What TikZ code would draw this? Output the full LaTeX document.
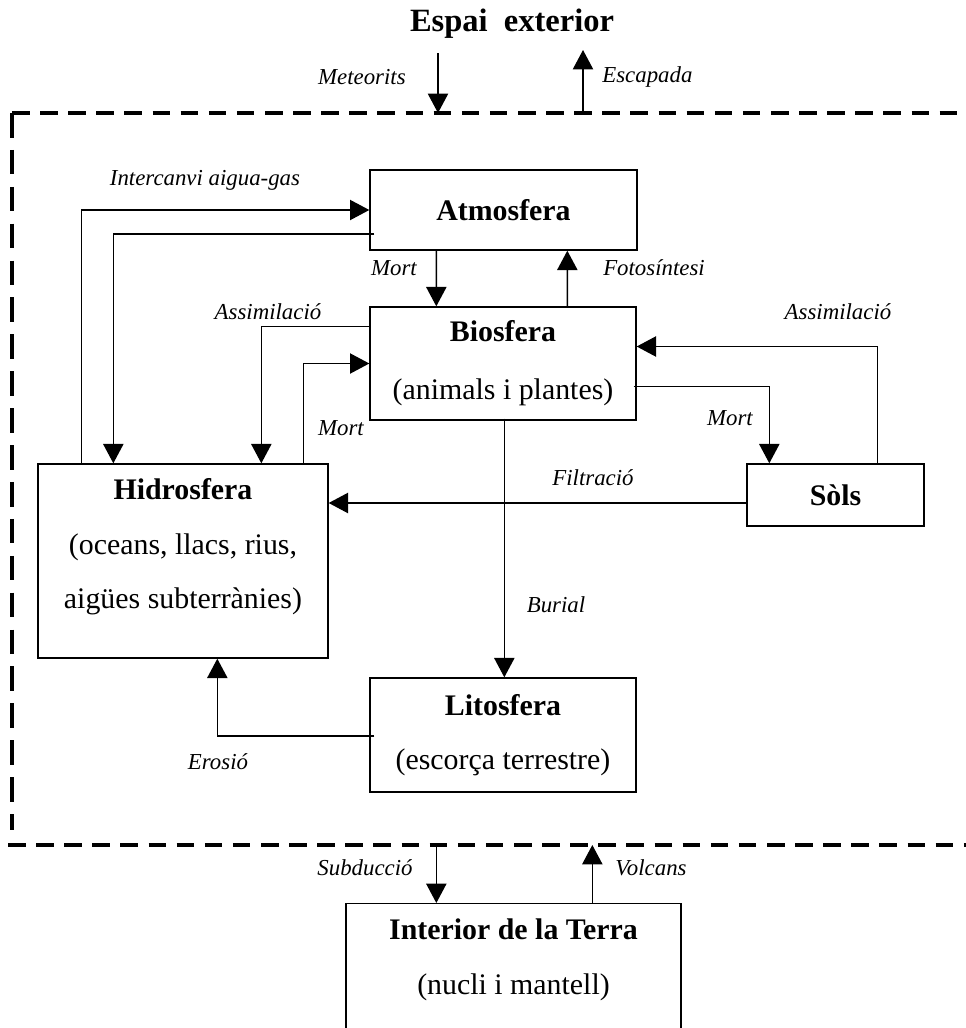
\documentclass[tikz,border=0pt]{standalone}
\usepackage{fontspec}
\setmainfont{Liberation Serif}
\usetikzlibrary{arrows.meta,calc}

\tikzset{
  box/.style={draw, line width=0.8pt, inner sep=0pt, align=center, font=\fontsize{17}{20}\selectfont},
  txt/.style={inner sep=0pt, align=center, font=\fontsize{17}{20}\selectfont},
  lbl/.style={inner sep=0pt, font=\fontsize{13}{15}\selectfont\itshape},
  arr/.style={line width=0.8pt, -{Triangle[length=11pt,width=11.5pt]}},
  border/.style={line width=2.3pt, dash pattern=on 10pt off 6pt},
  borderv/.style={line width=2.3pt, dash pattern=on 14pt off 7pt},
}

\begin{document}
\begin{tikzpicture}[x=0.02cm, y=-0.02cm]
  \clip (0,0) rectangle (966,1028);

  % limit of the system
  \coordinate (dtl) at (12,113);
  \coordinate (dbl) at (8,845);
  \draw[border] (dtl) -- (960,113);
  \draw[borderv] (dtl) -- (12,830);
  \draw[border] (dbl) -- (966,845);

  \node[txt, font=\fontsize{18.5}{22}\selectfont\bfseries] (espai) at (512,24) {Espai~ exterior};

  % reservoirs
  \node[box, minimum width=5.34cm, minimum height=1.6cm] (atmos) at (503.5,210) {\textbf{Atmosfera}};
  \node[box, minimum width=5.32cm, minimum height=2.26cm] (bio) at (503,363.5) {\textbf{Biosfera}\\[13pt](animals i plantes)};
  \node[box, minimum width=5.8cm, minimum height=3.88cm] (hidro) at (183,561) {};
  \node[txt] (hidrotxt) at (183,547) {\textbf{Hidrosfera}\\[11pt](oceans, llacs, rius,\\[11pt]aigües subterrànies)};
  \node[box, minimum width=3.54cm, minimum height=1.24cm] (sols) at (835.5,495) {\textbf{Sòls}};
  \node[box, minimum width=5.32cm, minimum height=2.28cm] (lito) at (503,735) {\textbf{Litosfera}\\[11pt](escorça terrestre)};
  \node[box, minimum width=6.7cm, minimum height=3cm, anchor=north] (interior) at (513.5,903) {};
  \node[txt] (interiortxt) at (513.5,960) {\textbf{Interior de la Terra}\\[11pt](nucli i mantell)};

  % exchanges with outer space
  \coordinate (met) at (438,53);
  \coordinate (esc) at (583,50);
  \draw[arr] (met) -- (met |- dtl);
  \draw[arr] (esc |- dtl) -- (esc);
  \node[lbl, anchor=east] (lmet) at (406,77) {Meteorits};
  \node[lbl, anchor=west] (lesc) at (602,77) {Escapada};

  % atmosphere
  \draw[arr] ($(atmos.south west)+(67,0)$) -- ($(bio.north west)+(67,0)$);
  \draw[arr] ($(bio.north west)+(198,0)$) -- ($(atmos.south west)+(198,0)$);
  \draw[arr] ($(hidro.north west)+(44,0)$) |- (atmos.west);
  \draw[arr] ($(atmos.west)+(5,24)$) -| ($(hidro.north west)+(76,0)$);
  \node[lbl] (lmort1) at (394,268) {Mort};
  \node[lbl] (lfoto) at (654,268) {Fotosíntesi};
  \node[lbl] (linter) at (205,180) {Intercanvi aigua-gas};

  % biosphere
  \draw[arr] ($(bio.west)+(0,-37)$) -| ($(hidro.north west)+(224,0)$);
  \draw[arr] ($(hidro.north west)+(266,0)$) |- (bio.west);
  \draw[arr] ($(sols.north west)+(131,0)$) |- ($(bio.east)+(0,-17)$);
  \draw[arr] ($(bio.east)+(-3,23)$) -| ($(sols.north west)+(23,0)$);
  \draw[arr] ($(bio.south west)+(135,-2)$) -- ($(lito.north west)+(135,0)$);
  \node[lbl] (lass1) at (268,312) {Assimilació};
  \node[lbl] (lass2) at (838,312) {Assimilació};
  \node[lbl] (lmort2) at (341,428) {Mort};
  \node[lbl] (lmort3) at (730,418) {Mort};
  \node[lbl] (lbur) at (556,605) {Burial};

  % soils, lithosphere
  \coordinate (filt) at ($(sols.west)+(0,8)$);
  \draw[arr] (filt) -- (filt -| hidro.east);
  \draw[arr] ($(lito.west)+(5,1)$) -| ($(hidro.south west)+(180,0)$);
  \node[lbl] (lfilt) at (593,478) {Filtració};
  \node[lbl] (lero) at (218,762) {Erosió};

  % earth interior
  \coordinate (sub) at ($(interior.north west)+(91,0)$);
  \coordinate (vol) at ($(interior.north west)+(247,0)$);
  \draw[arr] (sub |- dbl) -- (sub);
  \draw[arr] (vol) -- (vol |- dbl);
  \node[lbl] (lsub) at (365,868) {Subducció};
  \node[lbl] (lvol) at (651,868) {Volcans};
\end{tikzpicture}
\end{document}
